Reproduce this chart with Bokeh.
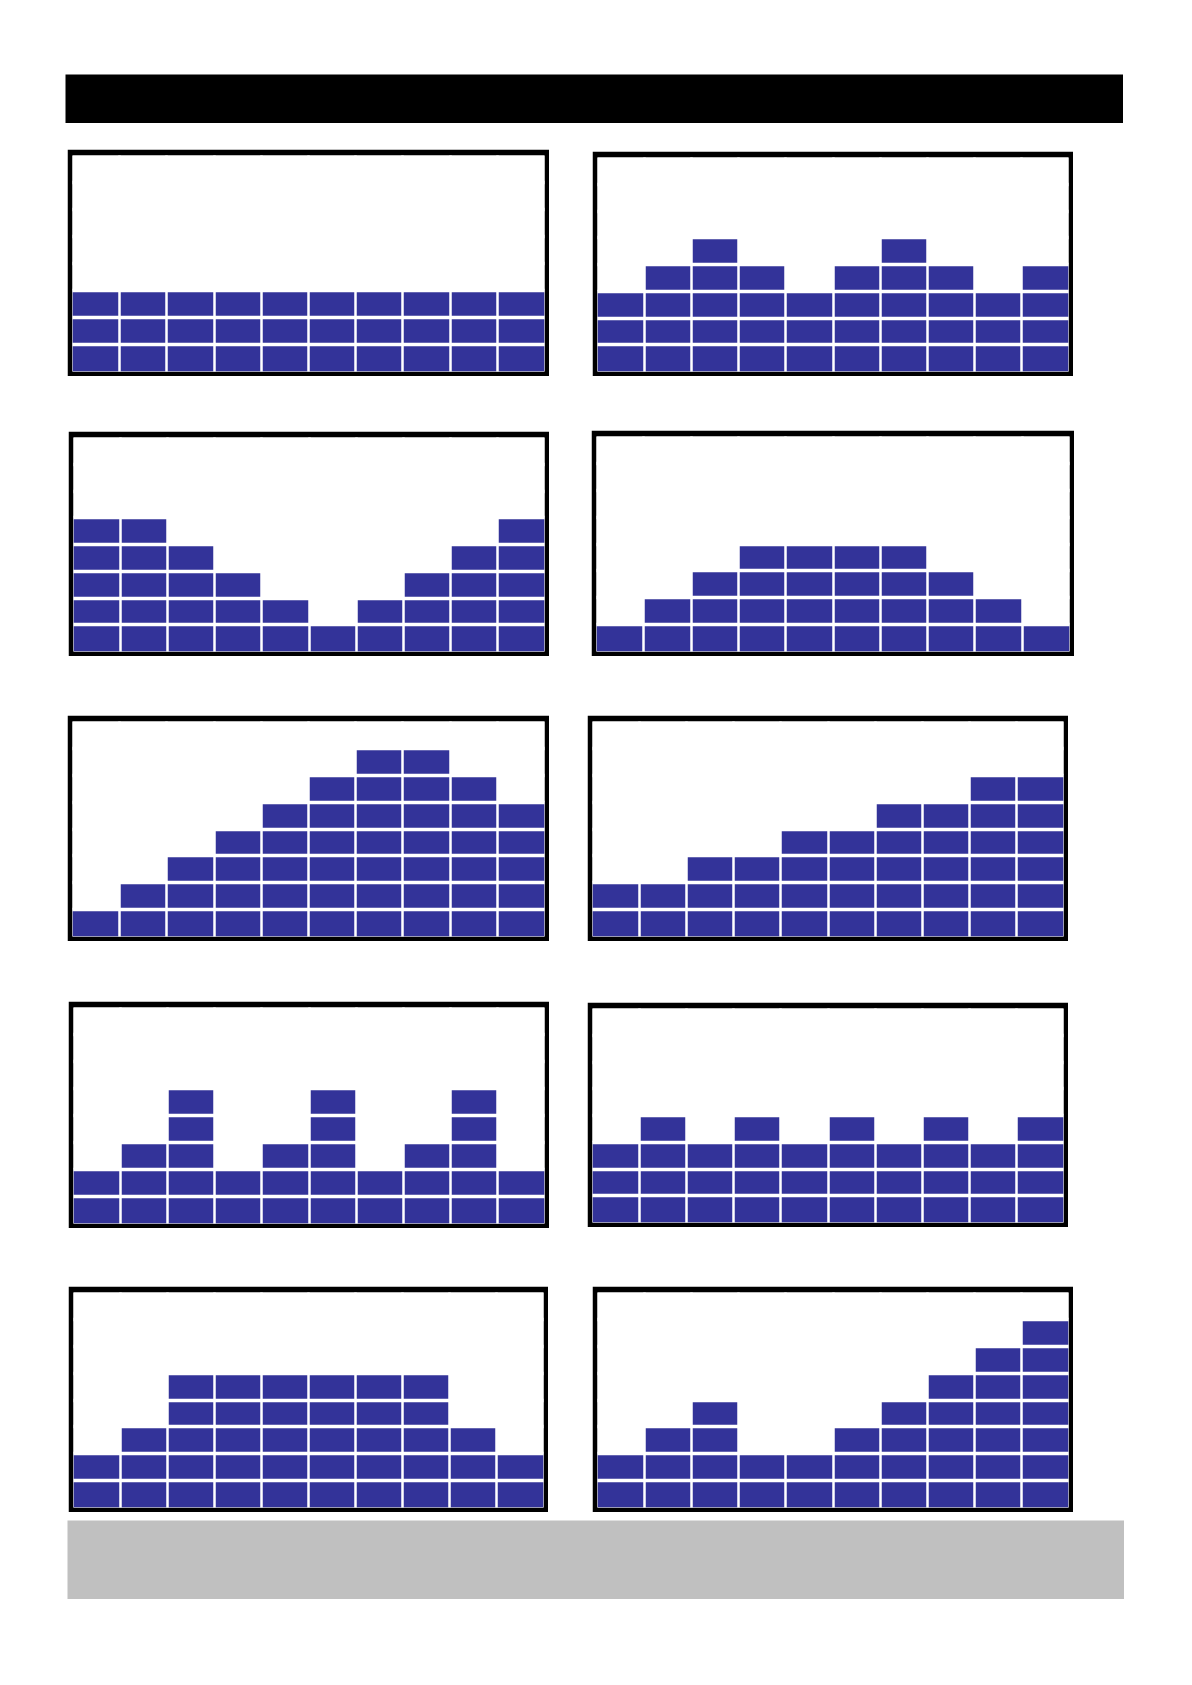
from bokeh.plotting import figure
from bokeh.models import Range1d, Grid, FixedTicker, Spacer, ColumnDataSource
from bokeh.layouts import column, row
from bokeh.embed import file_html
from bokeh.resources import INLINE

# ---- data: number of stacked blocks in each of the 10 columns of each panel ----
N_COLS = 10
N_ROWS = 8
panel_a = [3, 3, 3, 3, 3, 3, 3, 3, 3, 3]
panel_b = [3, 4, 5, 4, 3, 4, 5, 4, 3, 4]
panel_c = [5, 5, 4, 3, 2, 1, 2, 3, 4, 5]
panel_d = [1, 2, 3, 4, 4, 4, 4, 3, 2, 1]
panel_e = [1, 2, 3, 4, 5, 6, 7, 7, 6, 5]
panel_f = [2, 2, 3, 3, 4, 4, 5, 5, 6, 6]
panel_g = [2, 3, 5, 2, 3, 5, 2, 3, 5, 2]
panel_h = [3, 4, 3, 4, 3, 4, 3, 4, 3, 4]
panel_i = [2, 3, 5, 5, 5, 5, 5, 5, 3, 2]
panel_j = [2, 3, 4, 2, 2, 3, 4, 5, 6, 7]

# ---- styles ----
BLOCK = "#333399"
GREY = "#C0C0C0"

# ---- layout (page pixel positions: x, y, width, height) ----
HEADER_POS = (65, 74, 1058, 49)
FOOTER_POS = (67, 1520, 1057, 79)
ROWS = [
    (panel_a, (67, 149, 482, 227), panel_b, (592, 151, 481, 225)),
    (panel_c, (68, 431, 481, 225), panel_d, (591, 430, 483, 226)),
    (panel_e, (67, 715, 482, 226), panel_f, (587, 715, 481, 226)),
    (panel_g, (68, 1001, 481, 227), panel_h, (587, 1002, 481, 225)),
    (panel_i, (68, 1286, 480, 226), panel_j, (592, 1286, 481, 226)),
]
PAGE = 0


def bar(w, h, color):
    p = figure(width=w, height=h, x_range=Range1d(0, 1), y_range=Range1d(0, 1),
               x_axis_location=None, y_axis_location=None, toolbar_location=None,
               tools="", output_backend="svg", min_border=0, title=None,
               border_fill_color=color, background_fill_color=color,
               outline_line_color=None)
    p.grid.visible = False
    return p


def panel(values, w, h):
    p = figure(width=w, height=h, x_range=Range1d(0, N_COLS), y_range=Range1d(0, N_ROWS),
               x_axis_location=None, y_axis_location=None, toolbar_location=None,
               tools="", output_backend="svg", title=None,
               min_border_left=5, min_border_right=5, min_border_top=6, min_border_bottom=5,
               border_fill_color="black", background_fill_color="white",
               outline_line_color=None)
    p.grid.visible = False
    xs, ys = [], []
    for i, v in enumerate(values):
        for k in range(v):
            xs.append(i)
            ys.append(k)
    src = ColumnDataSource(dict(left=xs, right=[x + 1 for x in xs],
                                bottom=ys, top=[y + 1 for y in ys]))
    p.quad(left="left", right="right", bottom="bottom", top="top", source=src,
           fill_color=BLOCK, line_color=None)
    p.add_layout(Grid(dimension=0, ticker=FixedTicker(ticks=list(range(1, N_COLS))),
                      grid_line_color="white", grid_line_width=2.5, level="overlay"))
    p.add_layout(Grid(dimension=1, ticker=FixedTicker(ticks=list(range(1, N_ROWS))),
                      grid_line_color="white", grid_line_width=3.5, level="overlay"))
    return p


def offset_v(item, dy):
    return column(Spacer(width=1, height=dy), item) if dy > 0 else item


children = []
cur_y = PAGE
hx, hy, hw, hh = HEADER_POS
children.append(Spacer(width=1, height=hy - cur_y))
children.append(row(Spacer(width=hx - PAGE, height=1), bar(hw, hh, "black")))
cur_y = hy + hh

for vl, (xl, yl, wl, hl), vr, (xr, yr, wr, hr) in ROWS:
    top = min(yl, yr)
    children.append(Spacer(width=1, height=top - cur_y))
    children.append(row(
        Spacer(width=xl - PAGE, height=1),
        offset_v(panel(vl, wl, hl), yl - top),
        Spacer(width=xr - (xl + wl), height=1),
        offset_v(panel(vr, wr, hr), yr - top),
    ))
    cur_y = max(yl + hl, yr + hr)

fx, fy, fw, fh = FOOTER_POS
children.append(Spacer(width=1, height=fy - cur_y))
children.append(row(Spacer(width=fx - PAGE, height=1), bar(fw, fh, GREY)))

layout = column(children)
open("out.html", "w").write(file_html(layout, INLINE))
